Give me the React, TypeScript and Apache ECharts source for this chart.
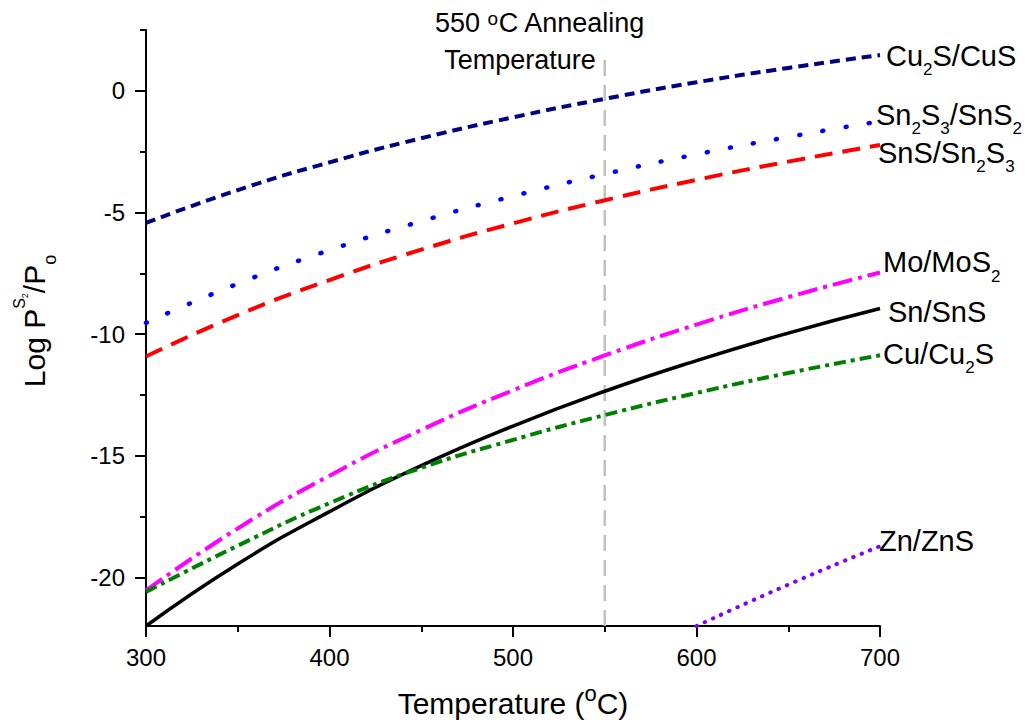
import React, { useEffect, useRef } from "react";
import * as echarts from "echarts";

// ---- data ----
const temps = [300, 350, 400, 450, 500, 550, 600, 650, 700];
const cu2sCus = [-5.43, -4.08, -2.94, -1.95, -1.09, -0.33, 0.35, 0.94, 1.47];
const sn2s3Sns2 = [-9.54, -7.93, -6.55, -5.36, -4.33, -3.42, -2.61, -1.9, -1.25];
const snsSn2s3 = [-10.92, -9.22, -7.78, -6.53, -5.45, -4.5, -3.66, -2.91, -2.23];
const moMos2 = [-20.54, -17.99, -15.82, -13.94, -12.31, -10.88, -9.61, -8.48, -7.47];
const snSns = [-22.0, -19.45, -17.3, -15.41, -13.78, -12.35, -11.09, -9.96, -8.95];
const cuCu2s = [-20.6, -18.7, -16.95, -15.5, -14.35, -13.33, -12.42, -11.6, -10.87];
const znTemps = [600, 650, 700];
const znZns = [-22.0, -20.3, -18.72];

const annealTemp = 550;
const annealSpan = [-22, 1.6];

const seriesNames = ["Cu2S/CuS", "Sn2S3/SnS2", "SnS/Sn2S3", "Mo/MoS2", "Sn/SnS", "Cu/Cu2S", "Zn/ZnS"];
const seriesLabels = [
  "{m|Cu}{s|2}{m|S/CuS}",
  "{m|Sn}{s|2}{m|S}{s|3}{m|/SnS}{s|2}",
  "{m|SnS/Sn}{s|2}{m|S}{s|3}",
  "{m|Mo/MoS}{s|2}",
  "{n|Sn/SnS}",
  "{m|Cu/Cu}{s|2}{m|S}",
  "{n|Zn/ZnS}",
];

const xTicks = { min: 300, max: 700, interval: 100 };
const yRange = { min: -22, max: 2.5 };
const yMajorTicks = [-20, -15, -10, -5, 0];
const yMinorTicks = [-17.5, -12.5, -7.5, -2.5, 2.5];

const FONT = "'Liberation Sans', Arial, Helvetica, sans-serif";

const pairs = (xs: number[], ys: number[]) => xs.map((x, i) => [x, ys[i]]);

const labelRich = {
  m: { fontSize: 29, lineHeight: 26, padding: [0, 0, 9, 0], verticalAlign: "top", color: "#000", fontFamily: FONT },
  s: { fontSize: 17, lineHeight: 14, padding: [20, 0, 1, 0], verticalAlign: "top", color: "#000", fontFamily: FONT },
  n: { fontSize: 29, lineHeight: 29, color: "#000", fontFamily: FONT },
};

function curve(
  name: string,
  label: string,
  data: number[][],
  color: string,
  width: number,
  type: any,
  cap: string,
  offset: number[]
) {
  return {
    type: "line",
    name,
    data,
    smooth: true,
    showSymbol: false,
    symbol: "none",
    silent: true,
    lineStyle: { color, width, type, cap },
    endLabel: {
      show: true,
      formatter: () => label,
      distance: 0,
      offset,
      rich: labelRich,
    },
  };
}

export default function App() {
  const ref = useRef<HTMLDivElement>(null);
  useEffect(() => {
    const chart = echarts.init(ref.current!, null, { renderer: "svg" });
    const axisLineStyle = { color: "#000", width: 2 };
    const option: any = {
      animation: false,
      backgroundColor: "#fff",
      textStyle: { fontFamily: FONT },
      grid: { left: 146, right: 154, top: 30, bottom: 98, containLabel: false },
      xAxis: {
        type: "value",
        min: xTicks.min,
        max: xTicks.max,
        interval: xTicks.interval,
        position: "bottom",
        axisLine: { show: true, onZero: false, lineStyle: axisLineStyle },
        axisTick: { show: true, length: 11, lineStyle: axisLineStyle },
        minorTick: { show: true, splitNumber: 2, length: 6, lineStyle: axisLineStyle },
        axisLabel: { margin: 19, fontSize: 24, color: "#000", fontFamily: FONT },
        splitLine: { show: false },
        minorSplitLine: { show: false },
        name: "{m|Temperature (}{sup|o}{m|C)}",
        nameLocation: "middle",
        nameGap: 56,
        nameTextStyle: {
          rich: {
            m: { fontSize: 30, lineHeight: 30, padding: [6, 0, 0, 0], verticalAlign: "top", color: "#000", fontFamily: FONT },
            sup: { fontSize: 22, lineHeight: 22, padding: [0, 0, 14, 0], verticalAlign: "top", color: "#000", fontFamily: FONT },
          },
        },
      },
      yAxis: [
        {
          type: "value",
          min: yRange.min,
          max: yRange.max,
          position: "left",
          axisLine: { show: true, onZero: false, lineStyle: axisLineStyle },
          axisTick: { show: true, length: 11, customValues: yMajorTicks, lineStyle: axisLineStyle },
          axisLabel: { customValues: yMajorTicks, margin: 21, fontSize: 24, color: "#000", fontFamily: FONT },
          splitLine: { show: false },
        },
        {
          type: "value",
          min: yRange.min,
          max: yRange.max,
          position: "left",
          axisLine: { show: false, onZero: false },
          axisTick: { show: true, length: 6, customValues: yMinorTicks, lineStyle: axisLineStyle },
          axisLabel: { show: false },
          splitLine: { show: false },
        },
      ],
      graphic: [
        {
          type: "text",
          x: 26,
          y: 321,
          rotation: Math.PI / 2,
          silent: true,
          style: {
            text: "{m|Log P}{sup|S}{ss|2}{m|/P}{sub|o}",
            align: "center",
            verticalAlign: "middle",
            textAlign: "center",
            textVerticalAlign: "middle",
            fill: "#000",
            rich: {
              m: { fontSize: 30, lineHeight: 30, padding: [8, 0, 10, 0], verticalAlign: "top", fill: "#000", fontFamily: FONT },
              sup: { fontSize: 16, lineHeight: 16, padding: [0, 0, 32, 0], verticalAlign: "top", fill: "#000", fontFamily: FONT },
              ss: { fontSize: 9, lineHeight: 9, padding: [9, 0, 30, 0], verticalAlign: "top", fill: "#000", fontFamily: FONT },
              sub: { fontSize: 18, lineHeight: 18, padding: [30, 0, 0, 0], verticalAlign: "top", fill: "#000", fontFamily: FONT },
            },
          },
        },
        {
          type: "text",
          x: 540,
          y: 9,
          silent: true,
          style: {
            text: "{a|550 }{o|o}{a|C Annealing}",
            align: "center",
            verticalAlign: "top",
            textAlign: "center",
            textVerticalAlign: "top",
            fill: "#000",
            rich: {
              a: { fontSize: 27, lineHeight: 35, verticalAlign: "top", fill: "#000", fontFamily: FONT },
              o: { fontSize: 19, lineHeight: 19, padding: [0, 0, 16, 0], verticalAlign: "top", fill: "#000", fontFamily: FONT },
            },
          },
        },
        {
          type: "text",
          x: 520,
          y: 60,
          silent: true,
          style: {
            text: "Temperature",
            align: "center",
            verticalAlign: "middle",
            textAlign: "center",
            textVerticalAlign: "middle",
            fill: "#000",
            fontSize: 27,
            fontFamily: FONT,
          },
        },
      ],
      series: [
        {
          type: "line",
          name: "anneal",
          data: [
            [annealTemp, annealSpan[0]],
            [annealTemp, annealSpan[1]],
          ],
          showSymbol: false,
          symbol: "none",
          silent: true,
          lineStyle: { color: "#c0c0c0", width: 2.5, type: [16, 9] },
        },
        curve(seriesNames[0], seriesLabels[0], pairs(temps, cu2sCus), "#000080", 4, [10, 6], "butt", [6, -1]),
        curve(seriesNames[1], seriesLabels[1], pairs(temps, sn2s3Sns2), "#0000ff", 4.5, [1, 22.5], "round", [-4, -8]),
        curve(seriesNames[2], seriesLabels[2], pairs(temps, snsSn2s3), "#ff0000", 4, [18, 10], "butt", [-2, 6]),
        curve(seriesNames[3], seriesLabels[3], pairs(temps, moMos2), "#ff00ff", 4, [20, 6, 4, 6], "butt", [3, -12]),
        curve(seriesNames[4], seriesLabels[4], pairs(temps, snSns), "#000000", 3.5, "solid", "butt", [8, 3]),
        curve(seriesNames[5], seriesLabels[5], pairs(temps, cuCu2s), "#008000", 4, [12, 5, 4, 5], "butt", [3, -3]),
        curve(seriesNames[6], seriesLabels[6], pairs(znTemps, znZns), "#8000ff", 4, [0.5, 8.5], "round", [-1, -5]),
      ],
    };
    chart.setOption(option);
    return () => chart.dispose();
  }, []);
  return (
    <div
      ref={ref}
      style={{ position: "fixed", left: 0, top: 0, width: 1034, height: 724, background: "#fff" }}
    />
  );
}
